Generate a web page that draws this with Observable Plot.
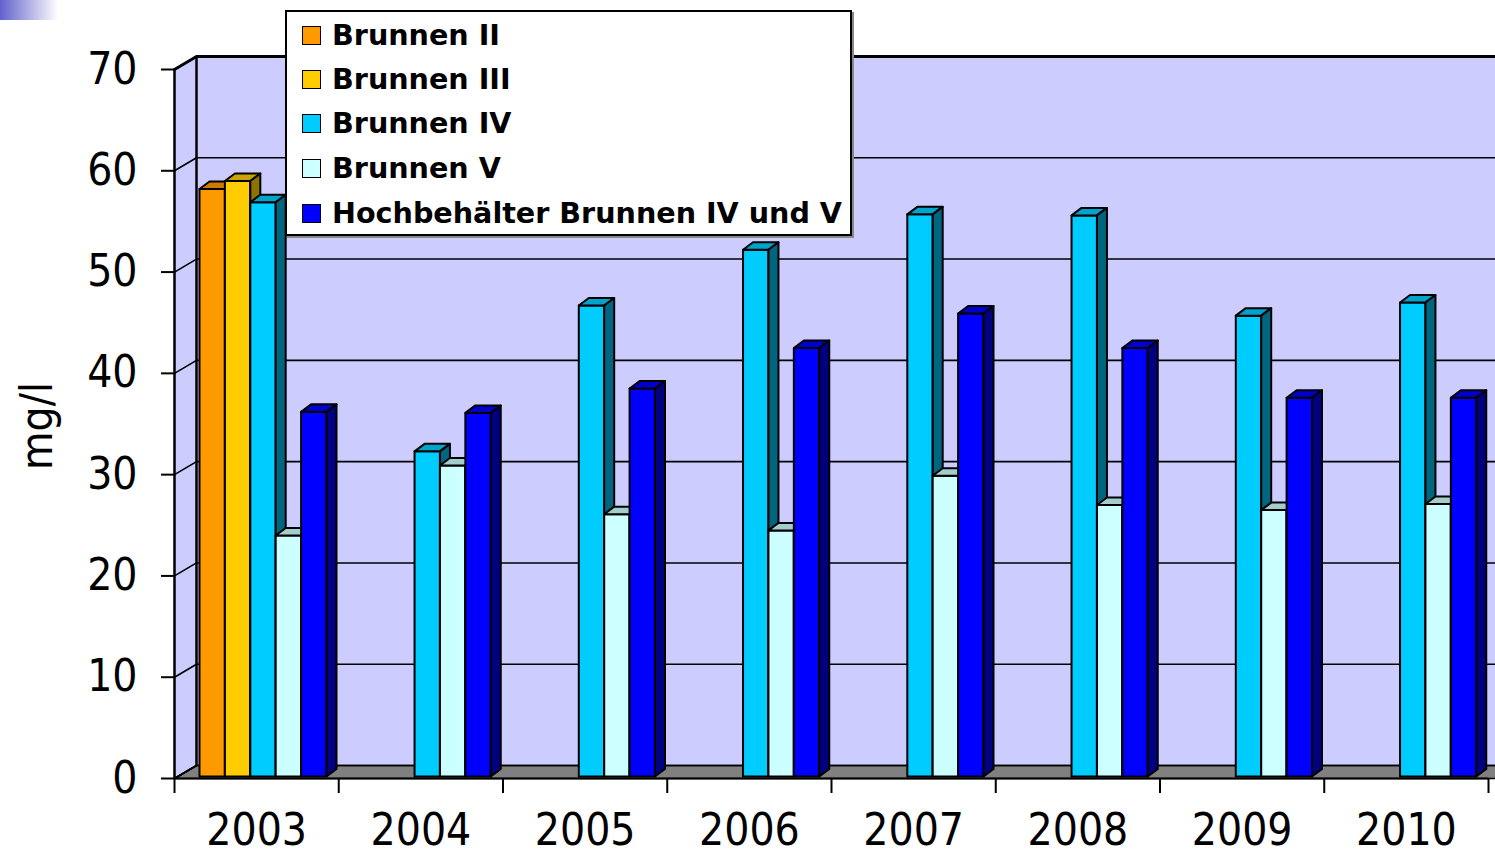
<!DOCTYPE html>
<html>
<head>
<meta charset="utf-8">
<script src="https://cdn.jsdelivr.net/npm/d3@7"></script>
<script src="https://cdn.jsdelivr.net/npm/@observablehq/plot@0.6"></script>
<style>
  html, body { margin: 0; padding: 0; background: white; }
  #wrap { position: relative; width: 1495px; height: 857px; overflow: hidden; }
  #grad { position: absolute; left: 0; top: 0; width: 58px; height: 20px;
          background: linear-gradient(to right, #6262cc, #ffffff); }
  #legend { position: absolute; left: 285px; top: 10px; width: 563px; height: 222px;
            background: white; border: 2px solid black; box-shadow: 2px 2px 0 #888;
            font-family: "DejaVu Sans", Verdana, sans-serif; font-weight: bold; font-size: 28.6px; }
  .row { position: absolute; left: 15px; height: 34px; display: flex; align-items: center; white-space: nowrap; }
  .sw { width: 17px; height: 17px; border: 1.5px solid black; margin-right: 11px; }
</style>
</head>
<body>
<div id="wrap">
  <div id="chart"></div>
  <div id="grad"></div>
  <div id="legend"></div>
</div>
<script>
// ---------- data ----------
const years = ["2003", "2004", "2005", "2006", "2007", "2008", "2009", "2010"];
const seriesNames = ["Brunnen II", "Brunnen III", "Brunnen IV", "Brunnen V", "Hochbehälter Brunnen IV und V"];
const brunnenII  = [58.0, null, null, null, null, null, null, null];
const brunnenIII = [58.8, null, null, null, null, null, null, null];
const brunnenIV  = [56.7, 32.1, 46.5, 52.0, 55.5, 55.4, 45.5, 46.8];
const brunnenV   = [23.8, 30.7, 25.9, 24.3, 29.7, 26.8, 26.3, 26.9];
const hochbehaelter = [36.0, 35.9, 38.3, 42.3, 45.7, 42.3, 37.4, 37.4];
const yTicks = [0, 10, 20, 30, 40, 50, 60, 70];

const frontColors = ["#ff9900", "#ffcc00", "#00ccff", "#ccffff", "#0000ff"];
const topColors   = ["#cc7a00", "#cca300", "#00a3cc", "#a3cccc", "#0000cc"];
const sideColors  = ["#995c00", "#8f7300", "#006680", "#7a9999", "#000080"];
const seriesValues = [brunnenII, brunnenIII, brunnenIV, brunnenV, hochbehaelter];

// ---------- layout ----------
const W = 1495, H = 857;
const mL = 174, mR = 7, mT = 69, mB = 79;
const nCat = years.length, yMax = 70;
const pxPerX = (W - mL - mR) / nCat;       // pixels per category
const pxPerY = (H - mT - mB) / yMax;       // pixels per unit
const px2x = p => p / pxPerX, px2y = p => p / pxPerY;

const DX = px2x(22), DY = px2y(13);        // wall depth
const XR = px2x(W - mL + 30);              // right of the canvas
const OFF = px2x(25), BW = px2x(25.4), BASE = px2y(2);
const TDX = px2x(10), TDY = px2y(7.5);     // bar depth

// walls and floor polygons
const walls = [];
function poly(id, fill, pts) { pts.forEach(([x, y]) => walls.push({id, fill, x, y})); }
poly("back", "#ccccff", [[DX, DY], [XR, DY], [XR, yMax + DY], [DX, yMax + DY]]);
poly("left", "#ccccff", [[0, 0], [DX, DY], [DX, yMax + DY], [0, yMax]]);
poly("floor", "#808080", [[0, 0], [DX, DY], [XR, DY], [XR, 0]]);

const grid = [];
yTicks.forEach(v => {
  grid.push({id: v, x: 0, y: v}, {id: v, x: DX, y: v + DY}, {id: v, x: XR, y: v + DY});
});

// bars: front, top, side faces built from values
const faces = [];
let k = 0;
years.forEach((yr, j) => {
  seriesValues.forEach((vals, i) => {
    const v = vals[j];
    if (v == null) return;
    const x1 = j + OFF + i * BW, x2 = x1 + BW;
    const b = BASE, t = v + BASE;
    const add = (fill, pts) => { const id = k++; pts.forEach(([x, y]) => faces.push({id, fill, x, y})); };
    add(frontColors[i], [[x1, b], [x2, b], [x2, t], [x1, t]]);
    add(topColors[i], [[x1, t], [x2, t], [x2 + TDX, t + TDY], [x1 + TDX, t + TDY]]);
    add(sideColors[i], [[x2, b], [x2 + TDX, b + TDY], [x2 + TDX, t + TDY], [x2, t]]);
  });
});

const font = '"DejaVu Sans Condensed", "DejaVu Sans", sans-serif';

const chart = Plot.plot({
  width: W, height: H,
  marginLeft: mL, marginRight: mR, marginTop: mT, marginBottom: mB,
  x: {domain: [0, nCat], axis: null},
  y: {domain: [0, yMax], axis: null},
  color: {type: "identity"},
  style: {fontFamily: font, fontStretch: "condensed", background: "white", overflow: "hidden"},
  marks: [
    Plot.line(walls, {x: "x", y: "y", z: "id", fill: "fill", stroke: null, curve: "linear-closed"}),
    Plot.line(walls.filter(d => d.id === "floor"), {x: "x", y: "y", fill: "#808080", stroke: "black", strokeWidth: 1.5, curve: "linear-closed"}),
    Plot.line(grid, {x: "x", y: "y", z: "id", stroke: "black", strokeWidth: d => d.id === yMax ? 3 : 1.6}),
    Plot.line(walls.filter(d => d.id === "left"), {x: "x", y: "y", stroke: "black", strokeWidth: 2, curve: "linear-closed"}),
    Plot.ruleX([DX], {y1: DY, y2: yMax + DY, stroke: "black", strokeWidth: 2}),
    Plot.line(faces, {x: "x", y: "y", z: "id", fill: "fill", stroke: "black", strokeWidth: 2, strokeLinejoin: "round", curve: "linear-closed"}),
    Plot.ruleY([0], {x1: 0, x2: nCat, stroke: "black", strokeWidth: 2}),
    Plot.ruleX([0], {y1: 0, y2: yMax, stroke: "black", strokeWidth: 2}),
    Plot.axisY({ticks: yTicks, tickSize: 13, tickPadding: 24, fontSize: 44, strokeWidth: 2, label: null}),
    Plot.axisX({ticks: d3.range(0, nCat + 1), tickSize: 15, tickFormat: () => "", strokeWidth: 2, label: null}),
    Plot.axisX({ticks: d3.range(0, nCat).map(i => i + 0.5), tickSize: 0, tickPadding: 35,
                tickFormat: d => years[Math.floor(d)], fontSize: 44, label: null}),
    Plot.text(["mg/l"], {frameAnchor: "left", textAnchor: "middle", lineAnchor: "middle", rotate: -90, dx: -137, dy: 2, fontSize: 44})
  ]
});
document.getElementById("chart").appendChild(chart);

// legend
const legend = document.getElementById("legend");
const rowCenters = [25, 69, 113, 158, 203];
seriesNames.forEach((name, i) => {
  const row = document.createElement("div");
  row.className = "row";
  row.style.top = (rowCenters[i] - 2 - 17) + "px";
  const sw = document.createElement("div");
  sw.className = "sw";
  sw.style.background = frontColors[i];
  const tx = document.createElement("span");
  tx.textContent = name;
  row.appendChild(sw); row.appendChild(tx);
  legend.appendChild(row);
});
</script>
</body>
</html>
